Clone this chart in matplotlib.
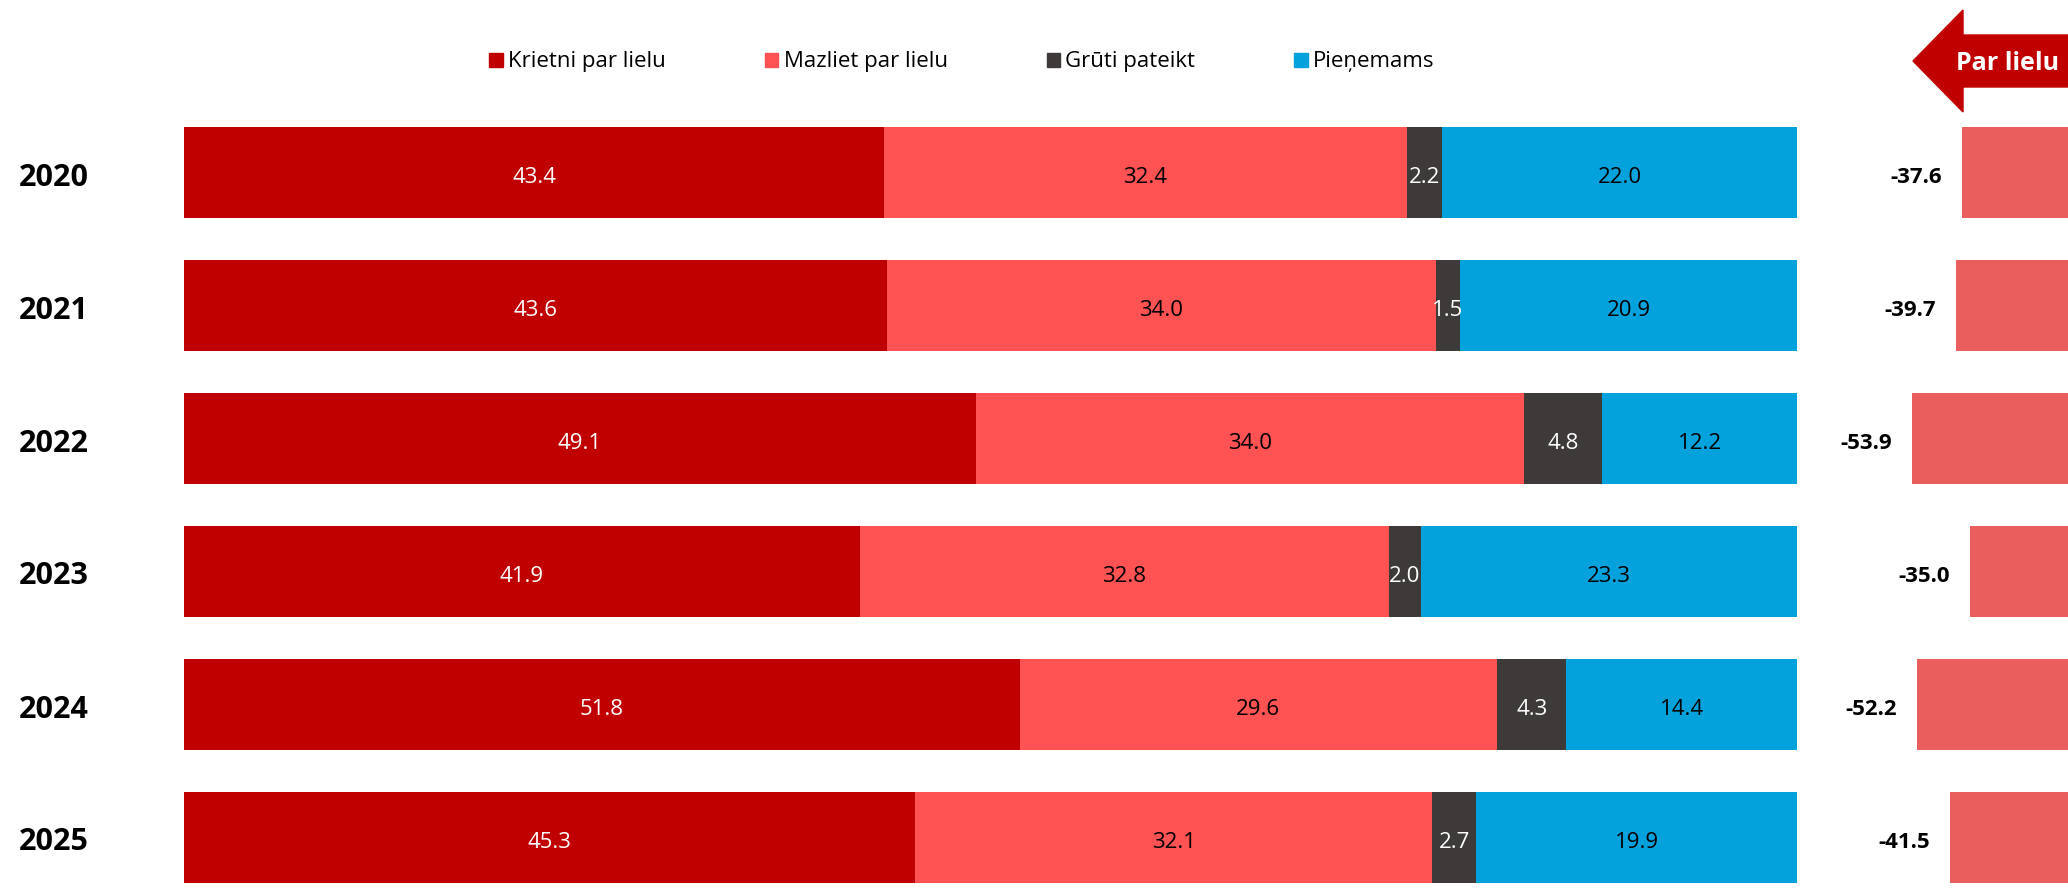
import numpy as np, matplotlib.pyplot as plt
from matplotlib.patches import Patch, Polygon

plt.rcParams['font.family'] = ['Open Sans', 'DejaVu Sans']

years = ["2020", "2021", "2022", "2023", "2024", "2025"]
series = ["Krietni par lielu", "Mazliet par lielu", "Grūti pateikt", "Pieņemams"]
krietni = [43.4, 43.6, 49.1, 41.9, 51.8, 45.3]
mazliet = [32.4, 34.0, 34.0, 32.8, 29.6, 32.1]
gruti = [2.2, 1.5, 4.8, 2.0, 4.3, 2.7]
pienemams = [22.0, 20.9, 12.2, 23.3, 14.4, 19.9]
net = [-37.6, -39.7, -53.9, -35.0, -52.2, -41.5]

colors = ["#C00000", "#FF5252", "#3D3A39", "#03A2DD"]
txt_colors = ["white", "black", "white", "black"]
NET_COL = "#EB5E5E"

W, H = 2068, 894
DY = -5  # text sits a few px below the bar centre in the original
fig = plt.figure(figsize=(W/100, H/100), dpi=100)

# main stacked bars: x 184..1797 px, rows every 133 px starting at 172.5
top_px, bot_px = 110, 890
ylim = (5 + (bot_px - 837.5)/133, -(172.5 - top_px)/133)
ax = fig.add_axes([184/W, 1 - bot_px/H, (1797-184)/W, (bot_px-top_px)/H])
ypos = np.arange(len(years))
left = np.zeros(len(years))
for vals, col, tc in zip([krietni, mazliet, gruti, pienemams], colors, txt_colors):
    vals = np.array(vals)
    ax.barh(ypos, vals, left=left, height=91/133, color=col, linewidth=0)
    for y, l, v in zip(ypos, left, vals):
        ax.annotate(f"{v:.1f}", xy=(l + v/2, y), xytext=(0, DY), textcoords="offset pixels",
                    ha="center", va="center", color=tc, fontsize=16)
    left += vals
ax.set_xlim(0, 100); ax.set_ylim(*ylim)
ax.axis("off")
for y, yr in zip(ypos, years):
    ax.annotate(yr, xy=(0, y), xycoords=("figure fraction", "data"), xytext=(19, DY),
                textcoords="offset pixels", ha="left", va="center", fontsize=22, weight="bold")

# net bars on the right, zero sits just past the right edge
k, z = 3.08, 2078
axr = fig.add_axes([1800/W, 1 - bot_px/H, (W-1800)/W, (bot_px-top_px)/H])
axr.barh(ypos, net, height=91/133, color=NET_COL, linewidth=0)
axr.set_xlim((1800 - z)/k, (W - z)/k); axr.set_ylim(*ylim)
axr.axis("off")
for y, v in zip(ypos, net):
    axr.annotate(f"{v:.1f}", xy=(v, y), xytext=(-20, DY), textcoords="offset pixels",
                 ha="right", va="center", fontsize=16, weight="bold", annotation_clip=False)

# "Par lielu" arrow
pts = [(1913, 61), (1963, 10), (1963, 35), (W, 35), (W, 87), (1963, 87), (1963, 112)]
fig.patches.append(Polygon([(x/W, 1 - y/H) for x, y in pts], closed=True, color="#C00000",
                           transform=fig.transFigure, figure=fig))
fig.text(2008/W, 1 - 63/H, "Par lielu", ha="center", va="center", color="white",
         fontsize=18, weight="bold")

handles = [Patch(color=c, label=s) for c, s in zip(colors, series)]
fig.legend(handles=handles, loc="center", bbox_to_anchor=(962/W, 1 - 62/H), ncol=4,
           frameon=False, fontsize=16, handlelength=0.6, handleheight=0.6,
           handletextpad=0.25, columnspacing=4.45)

fig.savefig("out.png", dpi=100)
